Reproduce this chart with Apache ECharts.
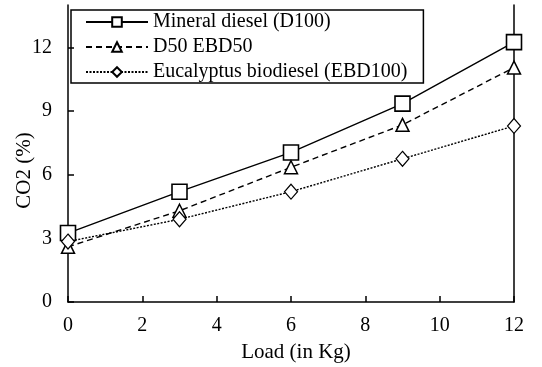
<!DOCTYPE html>
<html>
<head>
<meta charset="utf-8">
<script src="https://cdn.jsdelivr.net/npm/echarts@6/dist/echarts.min.js"></script>
<style>
  html, body { margin: 0; padding: 0; background: #fff; }
  #chart { width: 542px; height: 367px; }
</style>
</head>
<body>
<div id="chart"></div>
<script>
// Engine load (kg) and CO2 emission (%) for each fuel blend
const loads = [0, 3, 6, 9, 12];
const mineralDiesel = [3.25, 5.2, 7.05, 9.35, 12.25];
const d50Ebd50 = [2.6, 4.3, 6.35, 8.35, 11.05];
const eucalyptusBiodiesel = [2.85, 3.9, 5.2, 6.75, 8.3];
const seriesNames = ['Mineral diesel (D100)', 'D50 EBD50', 'Eucalyptus biodiesel (EBD100)'];
const yTicks = [0, 3, 6, 9, 12];

const font = 'Liberation Serif';
const chart = echarts.init(document.getElementById('chart'));

function pairs(values) {
  return loads.map((x, i) => [x, values[i]]);
}

chart.setOption({
  animation: false,
  textStyle: { fontFamily: font, color: '#000' },
  grid: { left: 68, right: 28, top: 5, bottom: 65, outerBoundsMode: 'none', containLabel: false },
  legend: {
    orient: 'vertical',
    left: 71,
    top: 10,
    borderColor: '#000',
    borderWidth: 1.5,
    borderRadius: 0,
    padding: [2, 16, 1, 14],
    itemGap: 5,
    itemWidth: 62,
    itemHeight: 12,
    textStyle: { fontFamily: font, fontSize: 20, color: '#000', lineHeight: 20 },
    data: seriesNames
  },
  xAxis: {
    type: 'value',
    min: 0, max: 12, interval: 2,
    name: 'Load (in Kg)',
    nameLocation: 'middle',
    nameGap: 40,
    nameMoveOverlap: false,
    nameTextStyle: { fontFamily: font, fontSize: 21, color: '#000', padding: [0, 0, 0, 10] },
    axisLine: { lineStyle: { color: '#000', width: 1.5 } },
    axisTick: { inside: true, length: 6, lineStyle: { color: '#000', width: 1.5 } },
    axisLabel: { fontFamily: font, fontSize: 20, color: '#000', margin: 14 },
    splitLine: { show: false }
  },
  yAxis: [{
    type: 'value',
    min: 0, max: 14, interval: 3,
    name: 'CO2 (%)',
    nameLocation: 'middle',
    nameGap: 33,
    nameMoveOverlap: false,
    nameTextStyle: { fontFamily: font, fontSize: 21, color: '#000', padding: [0, 34, 0, 0] },
    axisLine: { show: true, lineStyle: { color: '#000', width: 1.5 } },
    axisTick: { show: true, inside: true, length: 6, customValues: yTicks, lineStyle: { color: '#000', width: 1.5 } },
    axisLabel: { fontFamily: font, fontSize: 20, color: '#000', margin: 16, customValues: yTicks },
    splitLine: { show: false }
  }, {
    type: 'value',
    position: 'right',
    min: 0, max: 14,
    axisLine: { show: true, lineStyle: { color: '#000', width: 1.5 } },
    axisTick: { show: false },
    axisLabel: { show: false },
    splitLine: { show: false }
  }],
  series: [{
    name: seriesNames[0],
    type: 'line',
    data: pairs(mineralDiesel),
    symbol: 'rect',
    symbolSize: 15,
    lineStyle: { color: '#000', width: 1.4, type: 'solid' },
    itemStyle: { color: '#fff', borderColor: '#000', borderWidth: 1.6 },
    z: 3
  }, {
    name: seriesNames[1],
    type: 'line',
    data: pairs(d50Ebd50),
    symbol: 'triangle',
    symbolSize: [13, 13],
    lineStyle: { color: '#000', width: 1.4, type: [6, 4] },
    itemStyle: { color: '#fff', borderColor: '#000', borderWidth: 1.5 },
    z: 4
  }, {
    name: seriesNames[2],
    type: 'line',
    data: pairs(eucalyptusBiodiesel),
    symbol: 'diamond',
    symbolSize: [13, 15],
    lineStyle: { color: '#000', width: 1.4, type: [2, 1.5] },
    itemStyle: { color: '#fff', borderColor: '#000', borderWidth: 1.2 },
    z: 5
  }]
});
</script>
</body>
</html>
